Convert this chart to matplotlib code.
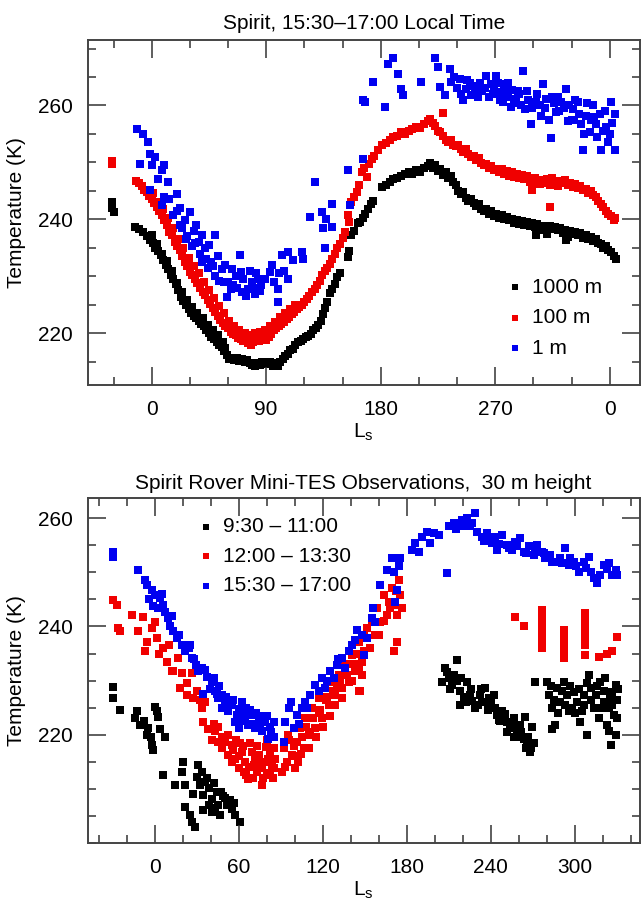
import numpy as np
import matplotlib
matplotlib.use("Agg")
import matplotlib.pyplot as plt
from matplotlib.ticker import MultipleLocator

plt.rcParams["font.family"] = ["Liberation Sans", "DejaVu Sans"]
plt.rcParams["mathtext.fontset"] = "custom"
plt.rcParams["mathtext.rm"] = "Liberation Sans"
plt.rcParams["mathtext.it"] = "Liberation Sans"

# ---- top panel: 15:30-17:00 LT, three heights (Ls, T) ----
top_1000m = [
    (-31, 243.0), (-31, 242.0), (-30, 241.3),
    (-13, 238.7), (-10, 238.3), (-7, 237.8), (-4, 237.0), (-1, 236.3), (1, 235.8), (3, 235.0),
    (5, 234.4), (7, 233.7), (9, 232.8), (11, 232.0), (13, 231.2), (15, 230.3), (17, 229.5),
    (19, 228.7), (21, 227.6), (23, 226.4), (25, 225.6), (27, 225.0), (29, 224.3), (31, 223.6),
    (33, 223.1), (35, 222.6), (37, 222.1), (39, 221.6), (41, 221.2), (43, 220.6), (45, 220.0),
    (47, 219.4), (49, 218.9), (51, 218.5), (53, 218.0), (55, 217.6), (57, 216.9), (59, 216.1),
    (61, 215.4), (63, 215.6), (65, 215.3), (67, 215.7), (69, 215.2), (71, 215.4), (73, 215.0),
    (75, 215.3), (77, 214.8), (79, 214.5), (81, 214.3), (83, 214.7), (85, 214.4), (87, 214.9),
    (91, 214.6), (93, 214.9), (95, 214.3), (97, 214.7), (99, 214.2), (101, 215.0), (103, 215.4),
    (105, 216.0), (107, 216.4), (109, 217.0), (111, 217.3), (113, 217.9), (115, 218.4),
    (117, 218.6), (119, 219.0), (121, 219.3), (123, 219.5), (125, 219.8), (127, 220.5),
    (129, 221.0), (131, 221.5), (133, 222.2), (135, 223.4), (136, 224.5), (138, 225.5),
    (140, 227.0), (142, 227.8), (144, 228.6), (146, 229.8), (148, 230.5), (154, 233.3),
    (155, 234.5), (157, 237.2), (159, 238.0), (162, 239.3), (164, 239.6), (166, 240.3),
    (168, 241.0), (170, 241.8), (172, 242.7), (174, 243.2), (181, 245.7), (184, 246.0),
    (187, 246.5), (190, 247.1), (193, 247.3), (196, 247.6), (199, 248.0), (202, 248.3),
    (205, 248.0), (208, 248.6), (211, 248.3), (214, 249.0), (217, 249.4), (219, 249.9),
    (221, 249.0), (223, 249.5), (225, 248.5), (227, 248.9), (229, 247.8), (231, 248.3),
    (233, 247.2), (235, 247.6), (237, 246.5), (239, 246.0), (241, 245.0), (243, 244.5),
    (245, 244.8), (247, 243.8), (249, 243.3), (251, 243.6), (253, 242.8), (255, 242.4),
    (257, 242.7), (259, 241.8), (261, 241.5), (263, 241.9), (265, 241.0), (267, 241.4),
    (269, 240.6), (271, 240.9), (273, 240.3), (275, 240.7), (277, 240.0), (279, 240.4),
    (281, 239.8), (283, 240.1), (285, 239.4), (287, 239.9), (289, 239.2), (291, 239.7),
    (293, 239.0), (295, 239.6), (297, 238.9), (299, 239.3), (301, 238.6), (302, 237.2),
    (303, 239.1), (305, 238.2), (307, 238.8), (309, 238.4), (311, 237.4), (313, 238.9),
    (315, 238.3), (317, 238.7), (319, 238.1), (321, 238.5), (323, 237.6), (325, 238.2),
    (326, 236.3), (327, 236.9), (329, 238.0), (331, 237.5), (333, 237.8), (335, 237.2),
    (337, 237.6), (339, 236.8), (341, 237.2), (343, 236.5), (345, 236.9), (347, 236.2),
    (349, 236.6), (351, 235.8), (353, 235.6), (355, 235.0), (357, 235.3), (359, 234.6),
    (361, 234.2), (363, 233.6), (365, 233.1),
    (0, 237.2), (4, 235.6), (8, 234.0), (12, 232.6), (16, 231.0), (20, 228.9), (24, 227.3),
    (28, 225.9), (32, 224.6), (36, 223.6), (40, 222.6), (44, 221.4), (48, 220.5),
    (52, 219.6), (56, 218.5), (58, 217.4),
]

top_100m = [
    (-31, 250.3), (-31, 249.8),
    (-12, 246.8), (-10, 246.3), (-8, 245.8), (-6, 245.2), (-4, 244.8), (-2, 244.1), (0, 243.6),
    (2, 242.8), (4, 242.2), (6, 241.4), (8, 240.7), (10, 239.8), (12, 239.0), (14, 237.8),
    (16, 237.2), (18, 236.1), (20, 235.4), (22, 234.6), (24, 233.5), (26, 232.5), (28, 231.8),
    (30, 230.8), (32, 230.2), (34, 229.6), (36, 228.9), (38, 228.0), (40, 227.3), (42, 226.7),
    (44, 225.8), (46, 225.2), (48, 224.4), (50, 223.7), (52, 223.0), (54, 222.4), (56, 221.8),
    (58, 221.3), (60, 220.9), (62, 220.3), (64, 219.8), (66, 219.6), (68, 219.2), (70, 219.0),
    (72, 218.6), (74, 218.8), (76, 218.2), (78, 217.9), (80, 218.4), (82, 219.0), (84, 218.6),
    (86, 218.9), (88, 219.3), (90, 218.8), (92, 219.4), (94, 219.8), (96, 220.5), (98, 220.9),
    (100, 221.3), (102, 221.6), (104, 222.0), (106, 222.5), (108, 222.8), (110, 223.3),
    (112, 223.7), (114, 224.2), (116, 224.6), (118, 225.0), (120, 225.5), (122, 226.0),
    (124, 226.6), (126, 227.2), (128, 227.8), (130, 228.4), (132, 229.2), (134, 230.2),
    (136, 230.9), (138, 231.5), (140, 232.2), (142, 233.0), (144, 234.0), (146, 234.9),
    (148, 235.6), (150, 236.8), (152, 237.8), (154, 240.7), (155, 239.6), (157, 243.0),
    (159, 244.0), (161, 244.8), (163, 246.0), (165, 248.3), (167, 249.0), (169, 247.5),
    (171, 249.8), (173, 250.6), (175, 251.2), (178, 252.2), (181, 253.0), (184, 253.4),
    (187, 254.0), (190, 254.4), (193, 254.6), (196, 255.3), (199, 255.0), (202, 255.6),
    (205, 255.9), (208, 256.2), (211, 256.0), (214, 256.8), (217, 257.3), (219, 257.7),
    (221, 257.0), (223, 256.4), (225, 255.6), (227, 255.3), (229, 258.6), (229, 254.6),
    (231, 254.0), (233, 253.6), (235, 253.9), (237, 253.1), (239, 252.8), (241, 253.0),
    (243, 252.4), (245, 251.9), (247, 252.3), (249, 251.4), (251, 251.0), (253, 251.2),
    (255, 250.4), (257, 250.8), (259, 249.9), (261, 249.5), (263, 249.8), (265, 249.1),
    (267, 249.4), (269, 248.6), (271, 248.9), (273, 248.4), (275, 248.9), (277, 247.9),
    (279, 248.5), (281, 247.6), (283, 248.3), (285, 247.4), (287, 248.0), (289, 247.2),
    (291, 247.8), (293, 247.0), (295, 247.6), (297, 246.5), (299, 245.2), (301, 247.3),
    (303, 246.6), (305, 246.2), (307, 246.9), (309, 246.4), (311, 247.0), (313, 242.2),
    (313, 246.1), (315, 247.2), (317, 246.6), (319, 245.9), (321, 246.8), (323, 246.3),
    (325, 246.9), (327, 246.0), (329, 246.4), (331, 245.7), (333, 246.2), (335, 245.5),
    (337, 245.9), (339, 245.1), (341, 245.4), (343, 244.7), (345, 245.0), (347, 244.3),
    (349, 243.9), (351, 243.3), (353, 242.7), (355, 242.2), (357, 241.5), (359, 241.0),
    (361, 240.5), (363, 239.8), (364, 240.3),
    (1, 244.6), (5, 243.0), (9, 241.8), (13, 240.3), (17, 238.5), (21, 236.6), (25, 235.0),
    (29, 233.2), (33, 231.8), (37, 230.5), (41, 229.0), (45, 227.6), (49, 226.2),
    (53, 224.8), (57, 223.5), (61, 222.2), (65, 221.2), (69, 220.6), (73, 220.0),
    (77, 219.6), (81, 220.0), (85, 220.3), (89, 220.6), (93, 221.2), (97, 222.0),
    (101, 222.8), (105, 223.5), (109, 224.2), (113, 225.0),
]

top_1m = [
    (-11.8, 255.9), (-6.5, 255.0), (-2.6, 253.6), (-1.3, 251.5), (-9.2, 249.8), (0, 249.5),
    (7.9, 248.6), (13.1, 246.5), (-1.3, 245.1), (7.9, 242.5), (19.6, 244.5), (17, 240.7),
    (26.2, 239.8), (30.1, 241.3), (31.4, 235.4), (39.3, 237.2), (49.7, 237.2), (41.9, 234.9),
    (39.3, 232.5), (55, 231.3), (62.8, 231.3), (69.4, 233.7), (60.2, 229.0), (70.7, 227.2),
    (78.5, 229.0), (83.8, 229.6), (58.9, 226.3), (75.9, 227.8), (92.9, 230.8), (94.2, 231.9),
    (99.5, 227.8), (99.5, 225.5), (102.1, 233.7), (107.3, 234.3), (107.3, 229.6),
    (117.8, 234.3), (119.1, 233.1), (124.3, 240.4), (128.3, 246.5), (133.5, 241.3),
    (134.8, 238.4), (136.1, 234.9), (141.4, 242.7), (141.4, 238.7), (154.5, 248.6),
    (155.8, 242.5), (166.2, 260.9), (166.2, 250.6), (5, 247.0), (10, 244.0), (22, 242.0),
    (35, 239.0), (45, 235.5), (52, 233.5), (66, 230.0), (81, 226.8), (86, 228.5),
    (96, 229.0), (111, 232.8), (137, 240.0),
    (3, 251.0), (10, 249.5), (14, 243.5), (20, 241.5), (24, 238.5), (28, 237.0), (33, 238.0),
    (37, 236.0), (43, 233.0), (47, 232.5), (50, 230.0), (57, 229.0), (64, 228.5),
    (72, 229.5), (77, 231.0), (85, 227.5), (89, 229.5), (100, 230.5), (104, 231.0),
    (22, 239.0), (27, 236.5), (34, 235.8), (38, 234.0), (44, 231.5), (48, 231.8),
    (53, 229.2), (58, 232.0), (62, 227.8), (67, 228.0), (70, 230.8), (74, 226.5),
    (80, 228.0), (82, 230.5),
    (167.5, 260.6), (174.1, 264.1), (183.2, 259.7), (185.9, 267.3), (189.8, 268.4),
    (193.7, 265.5), (196.3, 262.9), (197.6, 261.8), (212, 264.1), (222.5, 268.4),
    (225.1, 266.7), (226.4, 263.2), (230.3, 261.8), (234.3, 266.4), (235.6, 264.1),
    (242.1, 264.6), (244.8, 260.9), (247.4, 262.9), (252.6, 263.5), (256.5, 261.5),
    (263.1, 265.2), (267.0, 263.7), (270.9, 265.2), (273.6, 262.3), (276.2, 260.6),
    (278.8, 262.6), (282.7, 259.7), (286.7, 261.2), (291.9, 266.1), (293.2, 259.4),
    (298.4, 256.8), (302.3, 260.6), (306.3, 258.2), (307.6, 263.8), (310.2, 261.2),
    (314.1, 254.2), (318.1, 258.8), (322.0, 260.6), (325.9, 262.9), (327.2, 257.3),
    (331.1, 259.4), (335.1, 260.6), (337.7, 256.8), (339.0, 252.1), (341.6, 258.2),
    (344.3, 255.3), (346.8, 260.0), (349.5, 256.8), (352.1, 258.5), (353.4, 252.1),
    (357.3, 256.2), (358.6, 253.6), (361.2, 260.6), (363.9, 258.5), (363.9, 252.1),
    (250, 264.0), (260, 262.5), (268, 262.0), (280, 264.0), (289, 262.0), (296, 261.0),
    (315, 261.5), (320, 259.0), (330, 257.5), (333, 261.0), (345, 257.5), (355, 255.5),
    (238, 265.0), (240, 263.0), (243, 262.0), (248, 264.5), (251, 261.8), (254, 262.5),
    (258, 264.0), (262, 263.0), (265, 261.5), (269, 263.0), (272, 264.0), (274, 261.0),
    (277, 263.8), (280, 261.5), (283, 262.8), (285, 260.5), (288, 262.5), (290, 260.0),
    (295, 262.5), (299, 259.5), (303, 262.0), (305, 260.0), (309, 259.5), (312, 257.5),
    (316, 260.5), (319, 261.5), (324, 259.5), (328, 260.0), (332, 257.5), (336, 258.5),
    (340, 255.0), (342, 260.5), (348, 258.0), (350, 254.5), (356, 259.0), (360, 255.0),
    (362, 257.0),
]

# ---- bottom panel: 30 m height, three local time windows (Ls, T) ----
bot_morning = [
    (-29.8, 228.9), (-29.8, 226.7), (-25.1, 224.6), (-13.1, 224.3), (-10.7, 221.8),
    (0, 225.2), (2.4, 223.3), (-6, 220.0), (-2.4, 218.1), (7.2, 219.6), (-1.2, 217.2),
    (-14.3, 223.0), (-4.8, 221.2), (1.2, 224.3), (-8, 222.5), (-3, 219.5), (3.5, 221.0),
    (6, 212.6), (14.3, 210.7), (20.3, 215.0), (19.1, 213.2), (21.5, 210.7), (21.5, 206.7),
    (26.3, 203.9), (28.6, 203.0), (25.1, 205.1), (31, 214.4), (29.8, 212.2), (33.4, 213.2),
    (32.2, 210.7), (34.6, 208.9), (35.8, 211.3), (38.2, 210.1), (40.6, 208.2), (40.6, 205.8),
    (44.2, 209.5), (45.3, 207.0), (46.5, 205.2), (48.9, 208.6), (51.3, 207.0), (53.7, 207.9),
    (56.1, 207.3), (57.3, 205.2), (60.9, 203.9), (43, 206.4), (38.2, 207.0), (34.6, 206.1),
    (27, 209.0), (37, 212.0), (42, 211.0), (47, 209.5), (50, 208.4), (55, 206.3),
    (205.2, 229.8), (207.6, 232.3), (210, 230.4), (215.9, 233.8), (212.3, 229.2),
    (218.3, 228.0), (218.3, 225.5), (223.1, 229.8), (225.5, 227.3), (229, 224.9),
    (232.6, 227.3), (236.2, 228.6), (237.4, 226.1), (241, 224.9), (242.2, 227.3),
    (244.6, 223.7), (248.1, 224.3), (251.7, 222.4), (254.1, 221.2), (256.5, 223.0),
    (258.9, 220.6), (261.3, 221.8), (263.6, 219.3), (264.8, 223.3), (266, 218.1),
    (268.4, 216.9), (269.6, 221.5), (270.8, 218.4), (214, 231.0), (221, 227.0),
    (227, 226.2), (234, 226.0), (239, 226.8), (246, 222.8), (250, 223.8), (260, 219.6),
    (209, 231.5), (211, 228.5), (216, 230.0), (219, 230.5), (222, 226.0), (226, 228.5),
    (231, 225.5), (233, 228.5), (238, 224.5), (240, 226.5), (243, 225.0), (247, 222.5),
    (252, 220.5), (255, 222.0), (257, 219.5), (262, 220.5), (265, 217.5), (267, 219.5),
    (269, 217.5),
    (272, 229.8), (280.3, 229.8), (281.5, 227.3), (283.9, 224.9), (286.3, 221.8),
    (287.5, 228.6), (289.9, 226.1), (292.3, 229.8), (294.7, 227.3), (295.9, 224.3),
    (299.4, 227.9), (301.8, 226.1), (304.2, 222.4), (305.4, 224.3), (306.6, 227.3),
    (309, 219.9), (310.2, 231.0), (311.4, 228.6), (313.8, 224.9), (315, 227.3),
    (317.4, 223.0), (318.5, 229.8), (320.9, 226.1), (322.1, 230.4), (323.3, 221.8),
    (324.5, 224.9), (325.7, 218.1), (326.9, 227.9), (328.1, 223.7), (329.3, 229.2),
    (330.5, 223.0), (329.3, 219.9), (324.5, 220.6), (284, 221.0), (298, 225.0),
    (283, 229.0), (285, 226.5), (288, 224.0), (291, 228.0), (293, 225.5), (297, 229.0),
    (300, 224.0), (303, 228.5), (307, 225.5), (309, 229.5), (312, 226.5), (316, 229.0),
    (319, 225.0), (321, 228.0), (325, 227.0), (327, 225.5), (330, 226.5), (331, 228.5),
]

bot_noon = [
    (-29.8, 244.9), (-27.4, 244.0), (-26.3, 239.7), (-25.1, 239.1), (-16.7, 242.1),
    (-11.9, 239.1), (-8.4, 241.8), (-6, 237.2), (-2.4, 239.7), (0, 240.9), (-7.2, 235.4),
    (1.2, 237.8), (6, 236.0), (8.4, 233.5), (11.9, 231.7), (16.2, 234.1), (17.9, 228.6),
    (13.1, 231.7), (19.1, 231.4), (22.7, 227.3), (26.3, 231.4), (27.4, 226.7), (32.2, 226.4),
    (33.4, 224.9), (34.6, 222.4), (40.6, 219.0), (43, 220.6), (45.3, 218.7), (47.7, 217.5),
    (50.1, 218.7), (52.5, 216.3), (54.9, 218.1), (57.3, 215.6), (59.7, 213.8), (62.1, 216.9),
    (64.4, 215.0), (66.8, 211.9), (69.2, 216.9), (70.4, 214.4), (72.8, 213.2), (74, 216.3),
    (76.4, 210.7), (78.8, 215.0), (80, 212.6), (82.3, 216.9), (83.5, 214.4), (84.7, 217.5),
    (82.3, 212.9), (76.4, 213.8), (71.6, 215.6), (63.3, 213.2), (3, 235.0), (10, 236.5),
    (23, 229.5), (30, 228.0), (36, 226.0), (38, 221.0), (42, 222.0), (48, 219.5),
    (56, 217.2), (61, 218.5), (67, 214.0), (79, 217.8), (86, 215.5),
    (58, 219.0), (60, 216.0), (63, 218.0), (65, 212.5), (68, 218.5), (70, 212.0),
    (73, 218.0), (75, 214.8), (77, 212.0), (80, 219.0), (81, 215.5), (84, 212.0),
    (85, 213.8), (45, 221.5), (52, 220.0), (55, 215.0),
    (90.7, 213.2), (91.9, 217.5), (94.3, 215.0), (97.9, 216.3), (100.2, 213.8),
    (101.4, 218.7), (103.8, 221.2), (106.2, 217.5), (107.4, 223.0), (109.8, 219.9),
    (112.2, 224.9), (114.6, 221.2), (116.9, 226.7), (119.3, 223.0), (121.7, 228.6),
    (124.1, 225.5), (126.5, 229.8), (128.9, 227.3), (131.3, 231.0), (133.7, 228.6),
    (136, 232.9), (138.4, 229.8), (140.8, 234.7), (143.2, 231.7), (145.6, 237.2),
    (148, 233.5), (149.2, 238.4), (145.6, 228.0), (96, 219.0), (104, 216.5), (111, 220.5),
    (118, 224.5), (123, 227.0), (130, 228.9), (135, 231.0), (142, 233.0),
    (93, 214.0), (95, 220.0), (99, 218.0), (100, 216.0), (102, 215.0), (105, 219.5),
    (108, 221.5), (110, 217.5), (113, 223.0), (115, 219.5), (117, 224.0), (120, 221.5),
    (122, 226.5), (125, 223.5), (127, 228.0), (129, 225.5), (132, 229.5), (134, 226.8),
    (137, 231.0), (139, 233.0), (141, 230.0), (144, 235.0), (146, 232.0),
    (146.7, 228.0), (147.9, 231.0), (149.1, 235.4), (150.3, 237.8), (151.5, 239.7),
    (153.9, 236.0), (155.1, 240.9), (157.4, 238.4), (158.6, 243.4), (161, 240.9),
    (163.4, 245.8), (165.8, 242.1), (167, 244.6), (169.4, 247.1), (170.6, 235.4),
    (173, 237.2), (171.8, 244.0), (174.2, 248.6), (175.3, 245.8), (176.5, 243.4),
    (173, 242.1), (168.2, 243.4), (160, 238.5), (164, 241.0), (172, 246.5),
    (257.7, 241.8), (263.6, 240.0),
    (276.8, 243.1), (276.8, 242.0), (276.8, 240.5), (276.8, 239.0), (276.8, 237.5),
    (276.8, 236.0), (292.3, 239.4), (292.3, 238.0), (292.3, 236.6), (292.3, 235.3),
    (292.3, 234.1), (307.8, 242.5), (307.8, 241.0), (307.8, 239.5), (307.8, 238.0),
    (307.8, 236.5), (307.8, 234.7), (317.4, 234.4), (323.3, 235.0), (326.9, 235.4),
    (330.5, 238.1),
]

bot_afternoon = [
    (-29.8, 253.8), (-29.8, 252.9), (-11.9, 250.4), (-7.2, 248.6), (-6, 247.7),
    (-2.4, 246.8), (0, 245.8), (-1.2, 243.7), (3.6, 245.2), (6, 244.0), (7.2, 242.7),
    (9.5, 241.5), (10.7, 240.0), (13.1, 239.1), (15.5, 237.8), (19.1, 236.6), (21.5, 235.4),
    (23.9, 236.0), (26.3, 234.1), (29.1, 232.9), (31, 231.7), (33.4, 232.3), (34.6, 227.6),
    (37, 230.7), (40.6, 229.8), (43, 228.0), (45.3, 226.7), (47.7, 227.3), (50.1, 225.5),
    (52.5, 224.3), (54.9, 225.5), (58.5, 223.6), (59.7, 221.2), (62.1, 224.3), (64.4, 223.0),
    (66.8, 221.8), (69.2, 223.6), (71.6, 221.2), (74, 223.0), (76.4, 220.6), (78.8, 222.4),
    (81.1, 219.3), (84.7, 222.4), (62.1, 226.1), (57.3, 222.4), (-4, 245.0), (2, 243.5),
    (5, 246.0), (12, 242.0), (17, 238.5), (25, 236.5), (28, 234.0), (36, 232.0),
    (39, 228.5), (42, 230.5), (48, 225.0), (56, 226.5), (68, 224.5), (73, 221.8),
    (80, 223.5), (83, 220.5),
    (44, 227.5), (46, 229.0), (51, 227.0), (53, 226.0), (60, 224.8), (63, 222.5),
    (65, 225.0), (70, 222.0), (72, 224.0), (75, 222.0), (77, 223.5), (82, 221.5),
    (85, 219.5),
    (91.9, 218.7), (93.1, 222.4), (95.5, 224.9), (99.0, 221.2), (101.4, 223.6),
    (105, 224.9), (107.4, 226.1), (111, 227.3), (114.6, 229.2), (116.9, 228.0),
    (119.3, 230.4), (121.7, 228.6), (125.3, 231.7), (127.7, 230.4), (130.1, 232.9),
    (133.7, 234.1), (136, 232.3), (138.4, 235.4), (140.8, 236.6), (144.4, 239.4),
    (148, 238.4), (97, 226.0), (103, 222.0), (109, 225.0), (123, 230.0), (131, 234.0),
    (143, 237.5),
    (149.1, 234.7), (151.5, 237.8), (155.1, 241.5), (156.2, 243.4), (157.4, 240.9),
    (161, 247.7), (165.8, 250.4), (169.4, 252.6), (170.6, 250.1), (173, 246.8),
    (171.8, 244.6), (175.3, 252.6), (174.2, 251.1), (183.7, 254.1), (186.1, 255.4),
    (188.5, 253.8), (190.9, 256.6), (194.4, 257.5), (196.8, 255.4), (199.2, 257.2),
    (202.8, 256.9), (208.8, 249.8), (210, 258.5), (213.5, 259.1), (217.1, 258.8),
    (219.5, 259.7), (223.1, 260.0), (225.5, 258.5), (229, 260.9), (230.2, 257.5),
    (233.8, 256.6), (237.4, 257.2), (239.8, 256.0), (243.4, 256.6), (244.6, 254.1),
    (248.1, 256.9), (251.7, 255.1), (255.3, 254.1), (257.7, 255.7), (261.3, 256.3),
    (263.6, 253.8), (267.2, 254.8), (270.8, 253.2), (273.2, 255.1), (276.8, 253.8),
    (279.2, 252.6), (282.7, 253.2), (286.3, 252.0), (289.9, 252.6), (293.5, 254.5),
    (295.9, 251.4), (299.4, 252.0), (303, 250.1), (306.6, 252.0), (310.2, 252.9),
    (311.4, 250.1), (313.8, 248.9), (316.2, 248.0), (318.5, 249.5), (320.9, 251.4),
    (324.5, 251.7), (326.9, 249.5), (329.3, 250.4), (330.5, 249.5), (215, 258.0),
    (221, 258.6), (227, 259.2), (235, 255.8), (241, 255.5), (246, 255.2), (253, 254.5),
    (259, 254.8), (265, 253.6), (272, 254.0), (278, 253.5), (284, 252.0), (291, 251.8),
    (297, 252.6), (301, 251.2), (308, 250.8), (323, 250.6),
]

top_labels = ["1000 m", "100 m", "1 m"]
bot_labels = ["9:30 \u2013 11:00", "12:00 \u2013 13:30", "15:30 \u2013 17:00"]
colors = ["#000000", "#f00000", "#0000f0"]

fig = plt.figure(figsize=(6.41, 9.07), dpi=100)
ax1 = fig.add_axes([0.1368, 0.5755, 0.861, 0.3804])
ax2 = fig.add_axes([0.1368, 0.0706, 0.861, 0.3807])

ms = 31
for data, lab, c in zip([top_1000m, top_100m, top_1m], top_labels, colors):
    a = np.array(data)
    ax1.scatter(a[:, 0], a[:, 1], s=ms, marker="s", color=c, linewidths=0, label=lab)

for data, lab, c in zip([bot_morning, bot_noon, bot_afternoon], bot_labels, colors):
    a = np.array(data)
    ax2.scatter(a[:, 0], a[:, 1], s=ms, marker="s", color=c, linewidths=0, label=lab)

fs = 15
ax1.set_xlim(-50.3, 383.5)
ax1.set_ylim(210.9, 271.5)
ax1.set_xticks([0, 90, 180, 270, 360])
ax1.set_xticklabels(["0", "90", "180", "270", "0"])
ax1.xaxis.set_minor_locator(MultipleLocator(30))
ax1.set_yticks([220, 240, 260])
ax1.yaxis.set_minor_locator(MultipleLocator(5))
ax1.set_title("Spirit, 15:30\u201317:00 Local Time", fontsize=fs, pad=8)

ax2.set_xlim(-48.2, 346.5)
ax2.set_ylim(200, 263.8)
ax2.set_xticks([0, 60, 120, 180, 240, 300])
ax2.xaxis.set_minor_locator(MultipleLocator(20))
ax2.set_yticks([220, 240, 260])
ax2.yaxis.set_minor_locator(MultipleLocator(5))
ax2.set_title("Spirit Rover Mini-TES Observations,  30 m height", fontsize=fs, pad=6)

for ax in (ax1, ax2):
    ax.set_xlabel(r"L$_{\mathrm{s}}$", fontsize=fs, labelpad=2)
    ax.set_ylabel("Temperature (K)", fontsize=fs, labelpad=8)
    ax.tick_params(which="both", direction="in", top=True, right=True,
                   labelsize=fs, color="#333333")
    ax.tick_params(which="major", length=13, width=1.1, pad=11)
    ax.tick_params(which="minor", length=6, width=1.1)
    for sp in ax.spines.values():
        sp.set_color("#444444")
        sp.set_linewidth(1.4)

ax1.legend(loc="upper left", bbox_to_anchor=(0.74, 0.335), frameon=False, fontsize=fs,
           handletextpad=0.3, labelspacing=0.55, borderaxespad=0, handlelength=1.0,
           markerscale=0.85)
ax2.legend(loc="upper left", bbox_to_anchor=(0.181, 0.967), frameon=False, fontsize=fs,
           handletextpad=0.3, labelspacing=0.5, borderaxespad=0, handlelength=1.0,
           markerscale=0.85)

fig.savefig("out.png", dpi=100)
